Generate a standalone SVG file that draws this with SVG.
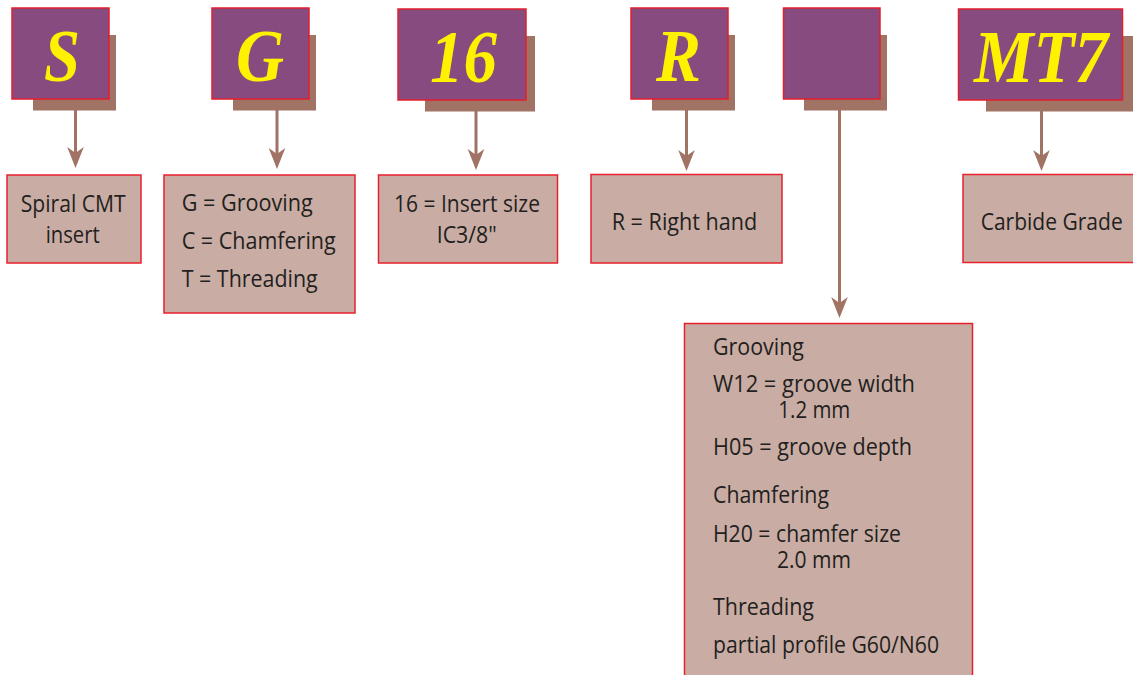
<svg xmlns="http://www.w3.org/2000/svg" width="1133" height="675" viewBox="0 0 1133 675">
  <defs>
    <style>
      .shadow { fill: #A07364; }
      .code { fill: #874B80; stroke: #E31E2D; stroke-width: 1.5; }
      .desc { fill: #C9ADA4; stroke: #E8202C; stroke-width: 1.5; }
      .letter { font-family: "Liberation Serif", "Times New Roman", serif; font-weight: bold; font-style: italic; font-size: 74px; fill: #FFF200; }
      .txt { font-family: "Open Sans", "Noto Sans", sans-serif; font-size: 23.5px; fill: #231F20; }
      .conn { stroke: #A07364; stroke-width: 3; fill: none; marker-end: url(#head); }
    </style>
    <marker id="head" markerUnits="userSpaceOnUse" viewBox="-22 -9 23 18" markerWidth="23" markerHeight="18" refX="-15" refY="0" orient="auto">
      <path d="M0,0 L-21,-8.3 L-15,0 L-21,8.3 Z" fill="#A07364"/>
    </marker>
  </defs>
  <rect width="1133" height="675" fill="#FFFFFF"/>

  <g id="connectors">
    <line class="conn" x1="75.5" y1="110" x2="75.5" y2="153"/>
    <line class="conn" x1="277" y1="110" x2="277" y2="154"/>
    <line class="conn" x1="476" y1="111" x2="476" y2="155"/>
    <line class="conn" x1="686.5" y1="110" x2="686.5" y2="156"/>
    <line class="conn" x1="839.5" y1="110" x2="839.5" y2="303"/>
    <line class="conn" x1="1041.5" y1="111" x2="1041.5" y2="156"/>
  </g>

  <g id="code-S">
    <rect class="shadow" x="33" y="35" width="83" height="75.5"/>
    <rect class="code" x="12" y="8" width="97" height="91"/>
    <text class="letter" x="44" y="81" textLength="36" lengthAdjust="spacingAndGlyphs">S</text>
  </g>
  <g id="code-G">
    <rect class="shadow" x="233" y="35" width="83" height="75.5"/>
    <rect class="code" x="212" y="8" width="97" height="91"/>
    <text class="letter" x="236" y="81" textLength="48" lengthAdjust="spacingAndGlyphs">G</text>
  </g>
  <g id="code-16">
    <rect class="shadow" x="425" y="36" width="110" height="75.5"/>
    <rect class="code" x="398" y="9" width="128" height="91"/>
    <text class="letter" x="430" y="81.5" textLength="67" lengthAdjust="spacingAndGlyphs">16</text>
  </g>
  <g id="code-R">
    <rect class="shadow" x="652" y="35" width="83" height="75.5"/>
    <rect class="code" x="631" y="8" width="97" height="91"/>
    <text class="letter" x="656" y="81" textLength="45" lengthAdjust="spacingAndGlyphs">R</text>
  </g>
  <g id="code-blank">
    <rect class="shadow" x="804" y="35" width="83" height="75.5"/>
    <rect class="code" x="783.5" y="8" width="96.5" height="91"/>
  </g>
  <g id="code-MT7">
    <rect class="shadow" x="986" y="36" width="150" height="75.5"/>
    <rect class="code" x="958.5" y="9" width="164" height="91"/>
    <text class="letter" x="974" y="81.5" textLength="134" lengthAdjust="spacingAndGlyphs">MT7</text>
  </g>

  <g id="desc-S">
    <rect class="desc" x="7" y="175" width="134" height="88"/>
    <text class="txt" x="20.7" y="212" textLength="105" lengthAdjust="spacingAndGlyphs">Spiral CMT</text>
    <text class="txt" x="45.7" y="243" textLength="54" lengthAdjust="spacingAndGlyphs">insert</text>
  </g>
  <g id="desc-G">
    <rect class="desc" x="164" y="175" width="191" height="138"/>
    <text class="txt" x="181.7" y="211" textLength="131" lengthAdjust="spacingAndGlyphs">G = Grooving</text>
    <text class="txt" x="181.7" y="249" textLength="154" lengthAdjust="spacingAndGlyphs">C = Chamfering</text>
    <text class="txt" x="181.7" y="286.5" textLength="136" lengthAdjust="spacingAndGlyphs">T = Threading</text>
  </g>
  <g id="desc-16">
    <rect class="desc" x="378.5" y="175" width="179" height="88"/>
    <text class="txt" x="394" y="211.5" textLength="146" lengthAdjust="spacingAndGlyphs">16 = Insert size</text>
    <text class="txt" x="436.7" y="243" textLength="60" lengthAdjust="spacingAndGlyphs">IC3/8"</text>
  </g>
  <g id="desc-R">
    <rect class="desc" x="591" y="174.5" width="191" height="88.5"/>
    <text class="txt" x="611.7" y="230" textLength="145.6" lengthAdjust="spacingAndGlyphs">R = Right hand</text>
  </g>
  <g id="desc-MT7">
    <rect class="desc" x="963" y="174.5" width="175" height="88"/>
    <text class="txt" x="980.7" y="230" textLength="142" lengthAdjust="spacingAndGlyphs">Carbide Grade</text>
  </g>
  <g id="desc-blank">
    <rect class="desc" x="684.5" y="323.5" width="288" height="360"/>
    <text class="txt" x="713" y="355" textLength="91" lengthAdjust="spacingAndGlyphs">Grooving</text>
    <text class="txt" x="713" y="391.5" textLength="202" lengthAdjust="spacingAndGlyphs">W12 = groove width</text>
    <text class="txt" x="778.3" y="418" textLength="72" lengthAdjust="spacingAndGlyphs">1.2 mm</text>
    <text class="txt" x="713" y="455" textLength="199" lengthAdjust="spacingAndGlyphs">H05 = groove depth</text>
    <text class="txt" x="713" y="503" textLength="116" lengthAdjust="spacingAndGlyphs">Chamfering</text>
    <text class="txt" x="713" y="542" textLength="188" lengthAdjust="spacingAndGlyphs">H20 = chamfer size</text>
    <text class="txt" x="777" y="568" textLength="74" lengthAdjust="spacingAndGlyphs">2.0 mm</text>
    <text class="txt" x="713" y="615" textLength="101" lengthAdjust="spacingAndGlyphs">Threading</text>
    <text class="txt" x="713" y="653" textLength="226" lengthAdjust="spacingAndGlyphs">partial profile G60/N60</text>
  </g>
</svg>
